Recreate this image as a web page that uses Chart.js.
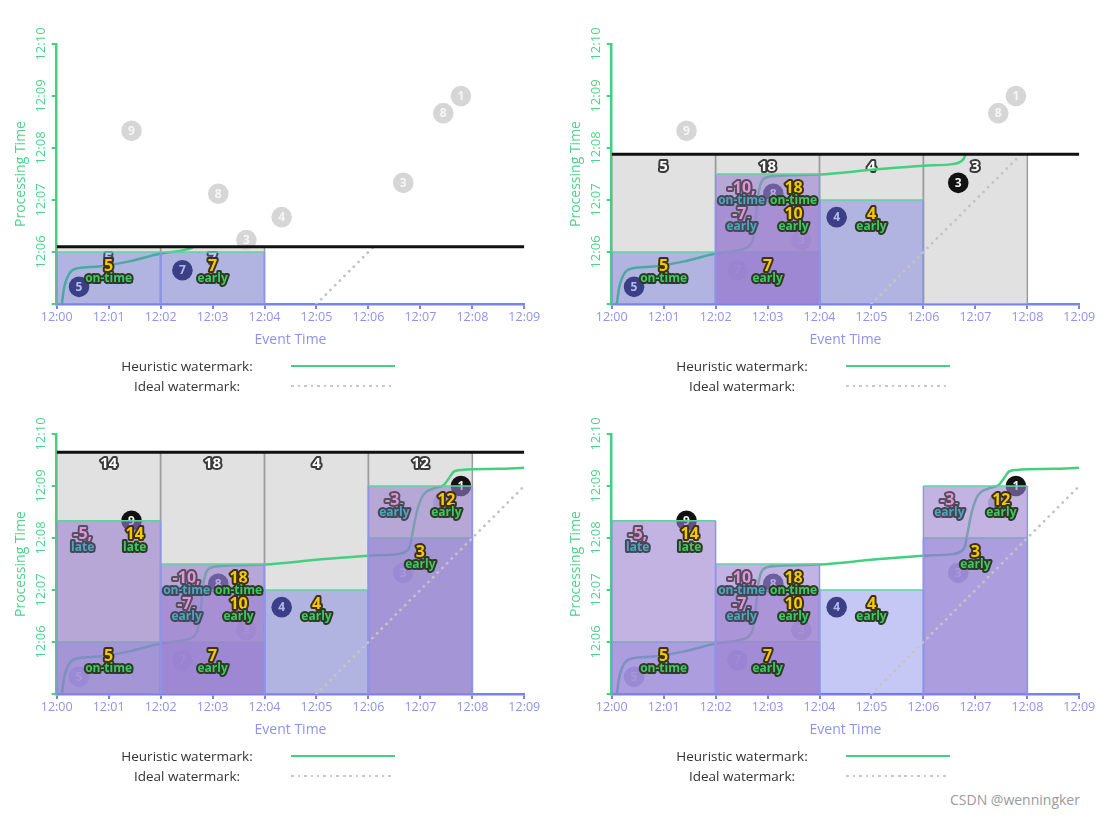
<!DOCTYPE html>
<html>
<head>
<meta charset="utf-8">
<title>Watermarks with early / on-time / late firings</title>
<script src="https://cdn.jsdelivr.net/npm/chart.js@4.4.1/dist/chart.umd.min.js"></script>
<style>
    body { margin: 0; background: #fff; font-family: "Open Sans", sans-serif; }
    #page { position: relative; width: 1107px; height: 819px; overflow: hidden; }
    .panel { position: absolute; width: 553px; height: 400px; }
    .panel canvas { position: absolute; left: 0; top: 0; }
    .key { position: absolute; left: 87px; width: 200px; text-align: center; font-size: 13.5px; color: #333; line-height: 20px; }
    .swatch { position: absolute; left: 291px; width: 104px; height: 2.5px; }
    .heur { background: #45cf80; }
    .ideal { background: repeating-linear-gradient(to right, #c9c9c9 0 2.5px, transparent 2.5px 6.5px); }
    #credit { position: absolute; left: 950px; top: 790px; font-size: 14px; color: #9a9a9a; }
</style>
</head>
<body>
<div id="page"><div id="credit">CSDN @wenningker</div></div>
<script>
// 시간 단위: 12:00 이후 분 (event time = x, processing time = y)
const xTickLabels = ['12:00', '12:01', '12:02', '12:03', '12:04', '12:05', '12:06', '12:07', '12:08', '12:09']
const yTickLabels = ['', '12:06', '12:07', '12:08', '12:09', '12:10']

// 입력 데이터 (score, event time, processing time)
const scores     = [5, 9, 7, 8, 3, 4, 3, 8, 1]
const eventTimes = [0.43, 1.44, 2.42, 3.11, 3.65, 4.33, 6.67, 7.44, 7.78]
const procTimes  = [5.33, 8.33, 5.65, 7.12, 6.23, 6.67, 7.33, 8.67, 9.00]

// heuristic watermark (event time, processing time)
const watermarkEvent = [0.10, 0.14, 0.20, 0.28, 0.42, 0.80, 1.40, 2.00, 2.50, 2.65, 2.73, 2.77, 2.82, 2.90, 3.05, 4.00, 5.00, 6.00, 6.55, 6.72, 6.80, 6.85, 6.93, 7.05, 7.25, 7.45, 7.55, 7.65, 7.80, 8.50, 9.00]
const watermarkProc  = [5.00, 5.30, 5.50, 5.63, 5.69, 5.72, 5.82, 5.97, 6.05, 6.12, 6.30, 6.60, 7.10, 7.38, 7.45, 7.49, 7.58, 7.66, 7.69, 7.74, 7.85, 8.10, 8.50, 8.82, 8.95, 9.02, 9.15, 9.28, 9.31, 9.33, 9.35]

// ideal watermark
const idealEvent = [5, 9]
const idealProc  = [5, 9]

// 2분 고정 윈도우
const windowStarts = [0, 2, 4, 6]
const windowWidth = 2

// 패널별 현재 processing time (마지막 패널은 없음)
const nowTimes = [6.10, 7.88, 9.65, null]

// pane 발화 (윈도우, 발화 시각, 값, 타이밍, 철회값)
const fireWindow  = [0, 1, 1, 2, 1, 3, 0, 3]
const fireTime    = [6.0, 6.0, 7.0, 7.0, 7.5, 8.0, 8.33, 9.0]
const fireValue   = [5, 7, 10, 4, 18, 3, 14, 12]
const fireTiming  = ['on-time', 'early', 'early', 'early', 'on-time', 'early', 'late', 'early']
const fireRetract = [null, null, -7, null, -10, null, -5, -3]

// 점 상태: N 진행중, G 아직 안 옴, F 이미 반영, B 방금 도착
const pointState = [
    ['N', 'G', 'N', 'G', 'G', 'G', 'G', 'G', 'G'],
    ['N', 'G', 'F', 'N', 'F', 'N', 'B', 'G', 'G'],
    ['F', 'B', 'F', 'N', 'F', 'N', 'F', 'F', 'B'],
    ['F', 'B', 'F', 'N', 'F', 'N', 'F', 'F', 'B']
]
const stateFill = { N: '#2a2d55', G: '#d6d6d6', F: '#b9b6d0', B: '#121212' }
const stateText = { N: '#e4e6f5', G: '#f6f6f6', F: '#eeedf6', B: '#f2f2f2' }

const FONT = '"Open Sans", sans-serif'
Chart.defaults.font.family = FONT

function outlined(ctx, text, x, y, size, fill, stroke) {
    ctx.save()
    ctx.font = 'bold ' + size + 'px ' + FONT
    ctx.textAlign = 'center'
    ctx.textBaseline = 'middle'
    ctx.lineJoin = 'round'
    ctx.lineWidth = 4
    ctx.strokeStyle = stroke
    ctx.strokeText(text, x, y)
    ctx.fillStyle = fill
    ctx.fillText(text, x, y)
    ctx.restore()
}

function makeMarks(firings) {
    return {
        id: 'marks',
        beforeDatasetDraw(chart, args) {
            const ds = chart.data.datasets[args.index]
            if (ds.clipBelow == null) return
            const a = chart.chartArea
            const y = chart.scales.y.getPixelForValue(ds.clipBelow)
            chart.ctx.save()
            chart.ctx.beginPath()
            chart.ctx.rect(a.left - 5, y, a.right - a.left + 10, a.bottom - y + 5)
            chart.ctx.clip()
        },
        afterDatasetDraw(chart, args) {
            const ds = chart.data.datasets[args.index]
            const ctx = chart.ctx
            const xs = chart.scales.x
            const ys = chart.scales.y
            if (ds.clipBelow != null) ctx.restore()
            // 회색 pane 합계
            if (ds.paneTotal != null) {
                outlined(ctx, String(ds.paneTotal), xs.getPixelForValue(ds.labelX), ys.getPixelForValue(ds.labelY) + 12, 15, '#ffffff', '#3a3a3a')
            }
            // 원 안의 숫자
            if (ds.circleText) {
                ctx.save()
                ctx.font = 'bold 12px ' + FONT
                ctx.textAlign = 'center'
                ctx.textBaseline = 'middle'
                args.meta.data.forEach(function (pt, i) {
                    ctx.fillStyle = ds.circleText[i]
                    ctx.fillText(String(scores[i]), pt.x, pt.y + 0.5)
                })
                ctx.restore()
            }
        },
        afterDatasetsDraw(chart) {
            const ctx = chart.ctx
            const xs = chart.scales.x
            const ys = chart.scales.y
            firings.forEach(function (i) {
                const xc = windowStarts[fireWindow[i]] + windowWidth / 2
                const yNum = ys.getPixelForValue(fireTime[i]) + 14
                const yWord = yNum + 13
                let xv = xc
                if (fireRetract[i] != null) {
                    const xr = xs.getPixelForValue(xc - 0.5)
                    outlined(ctx, fireRetract[i] + ',', xr, yNum, 16, '#e493d8', '#55505e')
                    outlined(ctx, fireTiming[i], xr, yWord, 12, '#4fa6b8', '#46465a')
                    xv = xc + 0.5
                }
                outlined(ctx, String(fireValue[i]), xs.getPixelForValue(xv), yNum, 16, '#f6c800', '#3b3214')
                outlined(ctx, fireTiming[i], xs.getPixelForValue(xv), yWord, 12, '#3fc76a', '#2f3a22')
            })
        }
    }
}

function paneData(w, top) {
    const s = windowStarts[w]
    const e = s + windowWidth
    return [{ x: s, y: 5 }, { x: s, y: top }, { x: e, y: top }, { x: e, y: 5 }]
}

function paneDataset(w, top, fill, topColor, sideColor) {
    return {
        type: 'line',
        data: paneData(w, top),
        showLine: true,
        pointRadius: 0,
        borderWidth: 1.5,
        fill: { value: 5 },
        backgroundColor: fill,
        segment: {
            borderColor: function (c) { return c.p0.parsed.y === c.p1.parsed.y ? topColor : sideColor }
        }
    }
}

function drawPanel(p) {
    const now = nowTimes[p]
    const limit = now == null ? Infinity : now

    const panel = document.createElement('div')
    panel.className = 'panel'
    panel.style.left = (p % 2 ? 555 : 0) + 'px'
    panel.style.top = (p > 1 ? 390 : 0) + 'px'
    const canvas = document.createElement('canvas')
    canvas.width = 553
    canvas.height = 360
    panel.append(canvas)

    const k1 = document.createElement('div')
    k1.className = 'key'
    k1.style.top = '355.7px'
    k1.innerText = 'Heuristic watermark:'
    const k2 = document.createElement('div')
    k2.className = 'key'
    k2.style.top = '376px'
    k2.innerText = 'Ideal watermark:'
    const s1 = document.createElement('div')
    s1.className = 'swatch heur'
    s1.style.top = '364.5px'
    const s2 = document.createElement('div')
    s2.className = 'swatch ideal'
    s2.style.top = '384.8px'
    panel.append(k1, k2, s1, s2)
    document.getElementById('page').append(panel)

    const datasets = []

    // 회색 pane: 현재까지 도착한 데이터가 있는 윈도우
    if (now != null) {
        windowStarts.forEach(function (s, w) {
            let total = 0
            let seen = false
            for (let i = 0; i < scores.length; i++) {
                if (eventTimes[i] >= s && eventTimes[i] < s + windowWidth && procTimes[i] <= now) {
                    total += scores[i]
                    seen = true
                }
            }
            if (!seen) return
            const ds = paneDataset(w, now, 'rgba(200,200,200,0.55)', 'rgba(0,0,0,0)', '#9c9c9c')
            ds.paneTotal = total
            ds.labelX = s + windowWidth / 2
            ds.labelY = now
            datasets.push(ds)
        })
    }

    // heuristic watermark
    const wm = []
    for (let i = 0; i < watermarkEvent.length; i++) wm.push({ x: watermarkEvent[i], y: watermarkProc[i] })
    datasets.push({
        type: 'line', data: wm, showLine: true, pointRadius: 0,
        borderColor: '#45cf80', borderWidth: 2.5, cubicInterpolationMode: 'monotone',
        clipBelow: now
    })

    // 입력 점
    const pts = []
    for (let i = 0; i < scores.length; i++) pts.push({ x: eventTimes[i], y: procTimes[i] })
    datasets.push({
        type: 'scatter', data: pts, pointRadius: 10.3, pointHoverRadius: 10.3, borderWidth: 0,
        backgroundColor: pointState[p].map(function (s) { return stateFill[s] }),
        circleText: pointState[p].map(function (s) { return stateText[s] })
    })

    // 발화된 pane
    const shown = []
    fireTime.forEach(function (t, i) {
        if (t > limit) return
        shown.push(i)
        const fill = fireRetract[i] != null ? 'rgba(155,128,208,0.6)' : 'rgba(89,98,226,0.35)'
        datasets.push(paneDataset(fireWindow[i], t, fill, '#5fd49a', '#8f95ea'))
    })

    // ideal watermark
    const ideal = []
    for (let i = 0; i < idealEvent.length; i++) ideal.push({ x: idealEvent[i], y: idealProc[i] })
    datasets.push({
        type: 'line', data: ideal, showLine: true, pointRadius: 0,
        borderColor: '#c4c4c4', borderWidth: 2.8, borderDash: [0.1, 6.5], borderCapStyle: 'round',
        clipBelow: now
    })

    // 현재 processing time
    if (now != null) {
        datasets.push({
            type: 'line', data: [{ x: 0, y: now }, { x: 9, y: now }], showLine: true, pointRadius: 0,
            borderColor: '#111111', borderWidth: 3
        })
    }

    // 먼저 넣은 것이 아래에 그려지도록
    datasets.forEach(function (ds, i) { ds.order = datasets.length - i })

    new Chart(canvas.getContext('2d'), {
        type: 'scatter',
        data: { datasets: datasets },
        plugins: [makeMarks(shown)],
        options: {
            responsive: false,
            animation: false,
            events: [],
            layout: { padding: { top: 44, right: 28.7, left: 0, bottom: 0 } },
            plugins: { legend: { display: false }, tooltip: { enabled: false } },
            scales: {
                x: {
                    type: 'linear', min: 0, max: 9,
                    afterFit: function (s) { s.height = 56 },
                    ticks: {
                        stepSize: 1, autoSkip: false, maxRotation: 0, padding: 1,
                        color: '#8d93ee', font: { size: 12.5 },
                        callback: function (v) { return xTickLabels[v] }
                    },
                    grid: { drawOnChartArea: false, color: '#7b83eb', tickLength: 5, lineWidth: 2 },
                    border: { color: '#7b83eb', width: 2.5 },
                    title: { display: true, text: 'Event Time', color: '#8d93ee', font: { size: 14 }, padding: { top: 0, bottom: 12 } }
                },
                y: {
                    type: 'linear', min: 5, max: 10,
                    afterFit: function (s) { s.width = 56.7 },
                    ticks: {
                        stepSize: 1, minRotation: 90, maxRotation: 90, crossAlign: 'center', padding: -6.6,
                        color: '#4fd18a', font: { size: 13 },
                        callback: function (v) { return yTickLabels[v - 5] }
                    },
                    grid: { drawOnChartArea: false, color: '#45cf80', tickLength: 5, lineWidth: 2 },
                    border: { color: '#45cf80', width: 2.5 },
                    title: { display: true, text: 'Processing Time', color: '#4fd18a', font: { size: 14 }, padding: { top: 12.3, bottom: 0 } }
                }
            }
        }
    })
}

window.onload = function () {
    for (let p = 0; p < 4; p++) drawPanel(p)
}
</script>
</body>
</html>
